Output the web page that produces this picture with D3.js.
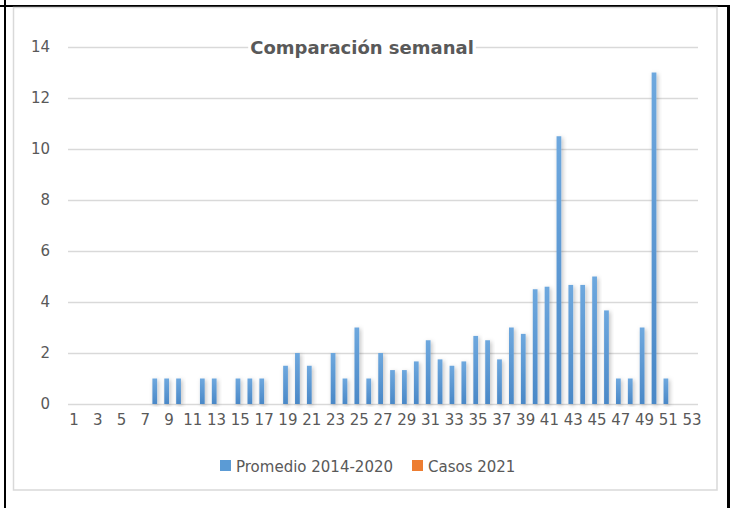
<!DOCTYPE html>
<html>
<head>
<meta charset="utf-8">
<script src="https://cdn.jsdelivr.net/npm/d3@7"></script>
<style>
  body { margin: 0; background: #fff; }
  svg { display: block; font-family: "DejaVu Sans", sans-serif; }
</style>
</head>
<body>
<div id="chart"></div>
<script>
// weeks of the year
var weeks = [1, 2, 3, 4, 5, 6, 7, 8, 9, 10, 11, 12, 13, 14, 15, 16, 17, 18, 19, 20,
  21, 22, 23, 24, 25, 26, 27, 28, 29, 30, 31, 32, 33, 34, 35, 36, 37, 38, 39, 40,
  41, 42, 43, 44, 45, 46, 47, 48, 49, 50, 51, 52, 53];

// Promedio 2014-2020
var promedio = [0, 0, 0, 0, 0, 0, 0, 1, 1, 1, 0, 1, 1, 0, 1, 1, 1, 0, 1.5, 2,
  1.5, 0, 2, 1, 3, 1, 2, 1.33, 1.33, 1.67, 2.5, 1.75, 1.5, 1.67, 2.67, 2.5, 1.75, 3, 2.75, 4.5,
  4.6, 10.5, 4.67, 4.67, 5, 3.67, 1, 1, 3, 13, 1, 0, 0];

// Casos 2021 (nothing drawn in the picture)
var casos = [0, 0, 0, 0, 0, 0, 0, 0, 0, 0, 0, 0, 0, 0, 0, 0, 0, 0, 0, 0,
  0, 0, 0, 0, 0, 0, 0, 0, 0, 0, 0, 0, 0, 0, 0, 0, 0, 0, 0, 0,
  0, 0, 0, 0, 0, 0, 0, 0, 0, 0, 0, 0, 0];

var seriesNames = ["Promedio 2014-2020", "Casos 2021"];
var seriesColors = ["#5b9bd5", "#ed7d31"];
var yTicks = [0, 2, 4, 6, 8, 10, 12, 14];
var xTickLabels = [1, 3, 5, 7, 9, 11, 13, 15, 17, 19, 21, 23, 25, 27, 29, 31, 33, 35,
  37, 39, 41, 43, 45, 47, 49, 51, 53];
var title = "Comparación semanal";

var svgWidth = 732;
var svgHeight = 508;
var textColor = "#595959";

var plot = { left: 68, right: 698, top: 47, bottom: 404 };

var svg = d3.select("#chart")
  .append("svg")
  .attr("width", svgWidth)
  .attr("height", svgHeight);

// gradient + soft shadow for the bars
var defs = svg.append("defs");
var grad = defs.append("linearGradient")
  .attr("id", "blueGrad")
  .attr("x1", 0).attr("y1", 0).attr("x2", 0).attr("y2", 1);
grad.append("stop").attr("offset", "0%").attr("stop-color", "#6ea8de");
grad.append("stop").attr("offset", "100%").attr("stop-color", "#4a88c7");

var shadow = defs.append("filter")
  .attr("id", "shadow")
  .attr("x", "-100%").attr("y", "-10%")
  .attr("width", "300%").attr("height", "120%");
shadow.append("feDropShadow")
  .attr("dx", 1.5).attr("dy", 1.5)
  .attr("stdDeviation", 2.2)
  .attr("flood-color", "#000")
  .attr("flood-opacity", 0.25);

// page lines around the chart (black)
svg.append("line")
  .attr("x1", 0).attr("x2", 729).attr("y1", 6).attr("y2", 6)
  .attr("stroke", "#000").attr("stroke-width", 2);
svg.append("line")
  .attr("x1", 5).attr("x2", 5).attr("y1", 0).attr("y2", svgHeight)
  .attr("stroke", "#000").attr("stroke-width", 2);
svg.append("line")
  .attr("x1", 728.5).attr("x2", 728.5).attr("y1", 5).attr("y2", svgHeight)
  .attr("stroke", "#000").attr("stroke-width", 3);

// chart frame
svg.append("rect")
  .attr("x", 13.5).attr("y", 7.5)
  .attr("width", 703.5).attr("height", 482.5)
  .attr("fill", "#fff")
  .attr("stroke", "#d9d9d9")
  .attr("stroke-width", 1.5);

// scales
var x = d3.scaleBand()
  .domain(weeks)
  .range([plot.left, plot.right])
  .paddingInner(0)
  .paddingOuter(0);

var x1 = d3.scaleBand()
  .domain([0, 1])
  .range([0, x.bandwidth()])
  .paddingInner(0)
  .paddingOuter(0.25);

var y = d3.scaleLinear()
  .domain([0, 14])
  .range([plot.bottom, plot.top]);

// gridlines
var grid = svg.append("g")
  .attr("transform", `translate(${plot.left},0)`)
  .call(d3.axisLeft(y).tickValues(yTicks).tickSize(-(plot.right - plot.left)).tickFormat(""));
grid.select(".domain").remove();
grid.selectAll("line")
  .attr("stroke", "#d9d9d9")
  .attr("stroke-width", 1.5);

// y axis labels
var yAxis = svg.append("g")
  .attr("transform", "translate(50,0)")
  .call(d3.axisLeft(y).tickValues(yTicks).tickSize(0).tickPadding(0));
yAxis.select(".domain").remove();
yAxis.selectAll("text")
  .attr("fill", textColor)
  .style("font-size", "15px")
  .style("font-family", "'DejaVu Sans', sans-serif");

// x axis labels
var xAxis = svg.append("g")
  .attr("transform", `translate(0,${plot.bottom})`)
  .call(d3.axisBottom(x).tickValues(xTickLabels).tickSize(0).tickPadding(10));
xAxis.select(".domain").remove();
xAxis.selectAll("text")
  .attr("fill", textColor)
  .style("font-size", "15px")
  .style("font-family", "'DejaVu Sans', sans-serif");

// bars
var barData = weeks.map(function(w, i) {
  return { week: w, values: [promedio[i], casos[i]] };
});

var groups = svg.append("g")
  .selectAll("g")
  .data(barData)
  .enter()
  .append("g")
  .attr("transform", d => `translate(${x(d.week)},0)`);

groups.selectAll("rect")
  .data(d => d.values.map((v, s) => ({ s: s, v: v })).filter(e => e.v > 0))
  .enter()
  .append("rect")
  .attr("x", d => x1(d.s))
  .attr("width", x1.bandwidth())
  .attr("y", d => y(d.v))
  .attr("height", d => y(0) - y(d.v))
  .attr("fill", d => d.s === 0 ? "url(#blueGrad)" : seriesColors[1])
  .attr("filter", "url(#shadow)");

// title with white box behind it (hides the gridline)
var titleG = svg.append("g");
var titleBox = titleG.append("rect").attr("fill", "#fff");
var titleText = titleG.append("text")
  .attr("x", 362)
  .attr("y", 54)
  .attr("text-anchor", "middle")
  .attr("fill", textColor)
  .style("font-size", "18px")
  .style("font-weight", "bold")
  .text(title);
var bb = titleText.node().getBBox();
titleBox
  .attr("x", bb.x - 2).attr("y", bb.y)
  .attr("width", bb.width + 4).attr("height", bb.height);

// legend
var legendX = [220, 412];
var legend = svg.append("g")
  .selectAll("g")
  .data(seriesNames)
  .enter()
  .append("g")
  .attr("transform", (d, i) => `translate(${legendX[i]},460)`);

legend.append("rect")
  .attr("width", 11)
  .attr("height", 11)
  .attr("fill", (d, i) => seriesColors[i]);

legend.append("text")
  .attr("x", 16)
  .attr("y", 12)
  .attr("fill", textColor)
  .style("font-size", "15px")
  .text(d => d);
</script>
</body>
</html>
